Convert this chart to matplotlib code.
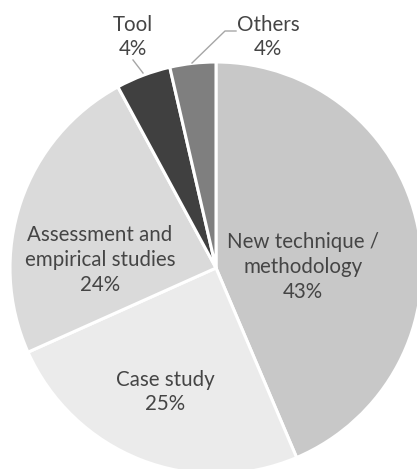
import matplotlib
matplotlib.use("Agg")
import matplotlib.pyplot as plt

categories = ["New technique /\nmethodology", "Case study", "Assessment and\nempirical studies", "Tool", "Others"]
values = [43.6, 24.7, 23.8, 4.3, 3.6]
pct_labels = ["43%", "25%", "24%", "4%", "4%"]
colors = ["#c8c8c8", "#ebebeb", "#dadada", "#404040", "#7f7f7f"]

W, H = 417, 469
fig = plt.figure(figsize=(W / 100, H / 100), dpi=100)
ax = fig.add_axes([0, 0, 1, 1])

cx, cy, r = 216, H - 268, 206
ax.pie(values, colors=colors, startangle=90, counterclock=False,
       center=(cx, cy), radius=r, frame=True,
       wedgeprops=dict(edgecolor="white", linewidth=2.2))
ax.set_xlim(0, W)
ax.set_ylim(0, H)
ax.set_aspect("equal")
ax.axis("off")

font = dict(family=["Lato", "DejaVu Sans"], fontsize=14.8, color="#454545",
            ha="center", va="center", linespacing=1.3)

# internal labels (offsets from centre, in pixels)
inner = {0: (87, 1), 1: (-51, -124), 2: (-116, 8)}
for i, (dx, dy) in inner.items():
    ax.text(cx + dx, cy + dy, categories[i] + "\n" + pct_labels[i], **font)

# outside labels
ax.text(133, H - 37, categories[3] + "\n" + pct_labels[3], **font)
ax.text(268, H - 37, categories[4] + "\n" + pct_labels[4], **font)

lc = "#a6a6a6"
ax.plot([133, 143], [H - 60, H - 73], color=lc, lw=1)
ax.plot([192, 225, 236], [H - 63, H - 31, H - 31], color=lc, lw=1)

fig.savefig("out.png", dpi=100)
